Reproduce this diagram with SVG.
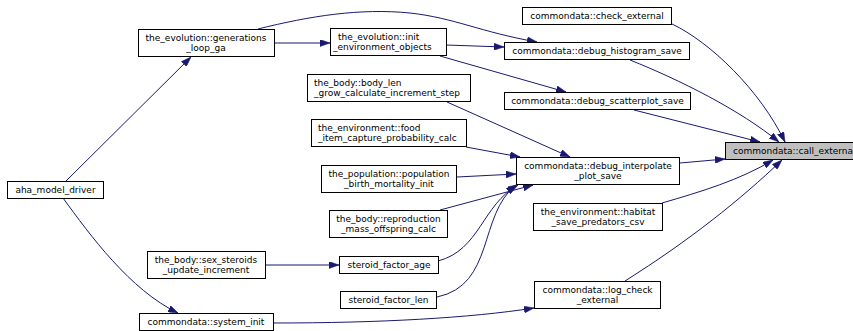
<svg xmlns="http://www.w3.org/2000/svg" width="853" height="331" viewBox="0 0 853 331">
  <style>
    .node rect { fill: #ffffff; stroke: #000000; stroke-width: 1; }
    .node.hl rect { fill: #bfbfbf; }
    .node text { font-family: "DejaVu Sans", "Liberation Sans", sans-serif; font-size: 9px; fill: #000000; }
    .c { text-anchor: middle; }
    .l { text-anchor: start; }
    .edges path { fill: none; stroke: #191970; stroke-width: 1; marker-end: url(#arrow); }
  </style>
  <defs>
    <marker id="arrow" viewBox="0 0 10 7" markerWidth="10" markerHeight="7" refX="10" refY="3.5" orient="auto" markerUnits="userSpaceOnUse">
      <path d="M0,0 L10,3.5 L0,7 z" fill="#191970" stroke="#191970" stroke-width="0.5"/>
    </marker>
  </defs>
  <rect width="853" height="331" fill="#ffffff"/>

  <g class="edges" id="edges">
    <path d="M66,181 L191,57"/>
    <path d="M63,198 C 90,235 130,290 178,313"/>
    <path d="M274,43 L330,43"/>
    <path d="M258,29 C 310,16 360,8 410,13 C 455,18 480,32 537,42"/>
    <path d="M446,45 L504,47"/>
    <path d="M440,56 L566,92"/>
    <path d="M672,24 C 710,42 760,90 785,142"/>
    <path d="M630,60 C 680,80 740,110 779,142"/>
    <path d="M634,110 L760,142"/>
    <path d="M680,163 L725,159"/>
    <path d="M662,203 C 700,192 740,180 773,160"/>
    <path d="M625,281 C 690,240 740,200 782,160"/>
    <path d="M447,102 L570,157"/>
    <path d="M466,147 L520,157"/>
    <path d="M457,177 L516,174"/>
    <path d="M440,210 L533,185"/>
    <path d="M438,261 C 480,250 482,205 518,185"/>
    <path d="M437,297 C 495,285 478,215 516,185"/>
    <path d="M265,265 L339,265"/>
    <path d="M273,323 C 380,323 470,318 534,308"/>
  </g>

  <g class="node" id="aha_model_driver">
    <rect x="7.5" y="181.5" width="96" height="17"/>
    <text class="c" x="55.5" y="193">aha_model_driver</text>
  </g>
  <g class="node" id="generations_loop_ga">
    <rect x="138.5" y="29.5" width="136" height="27"/>
    <text class="c" x="206" y="40.5">the_evolution::generations</text>
    <text class="c" x="206" y="51">_loop_ga</text>
  </g>
  <g class="node" id="sex_steroids_update_increment">
    <rect x="147.5" y="251.5" width="118" height="27"/>
    <text class="c" x="206" y="262.5">the_body::sex_steroids</text>
    <text class="c" x="206" y="273">_update_increment</text>
  </g>
  <g class="node" id="system_init">
    <rect x="139.5" y="313.5" width="134" height="17"/>
    <text class="c" x="206" y="325">commondata::system_init</text>
  </g>
  <g class="node" id="init_environment_objects">
    <rect x="330.5" y="28.5" width="116" height="27"/>
    <text class="l" x="338" y="39.5">the_evolution::init</text>
    <text class="l" x="333" y="50">_environment_objects</text>
  </g>
  <g class="node" id="body_len_grow_calculate_increment_step">
    <rect x="307.5" y="74.5" width="163" height="27"/>
    <text class="l" x="314" y="85.5">the_body::body_len</text>
    <text class="l" x="314" y="96">_grow_calculate_increment_step</text>
  </g>
  <g class="node" id="food_item_capture_probability_calc">
    <rect x="311.5" y="119.5" width="155" height="27"/>
    <text class="l" x="318" y="130.5">the_environment::food</text>
    <text class="l" x="318" y="141">_item_capture_probability_calc</text>
  </g>
  <g class="node" id="population_birth_mortality_init">
    <rect x="321.5" y="165.5" width="135" height="27"/>
    <text class="c" x="389" y="176.5">the_population::population</text>
    <text class="c" x="389" y="187">_birth_mortality_init</text>
  </g>
  <g class="node" id="reproduction_mass_offspring_calc">
    <rect x="329.5" y="210.5" width="118" height="27"/>
    <text class="c" x="388.5" y="221.5">the_body::reproduction</text>
    <text class="c" x="388.5" y="232">_mass_offspring_calc</text>
  </g>
  <g class="node" id="steroid_factor_age">
    <rect x="339.5" y="256.5" width="99" height="17"/>
    <text class="c" x="389" y="268">steroid_factor_age</text>
  </g>
  <g class="node" id="steroid_factor_len">
    <rect x="340.5" y="291.5" width="96" height="17"/>
    <text class="c" x="388.5" y="303">steroid_factor_len</text>
  </g>
  <g class="node" id="check_external">
    <rect x="522.5" y="7.5" width="149" height="17"/>
    <text class="c" x="597" y="19">commondata::check_external</text>
  </g>
  <g class="node" id="debug_histogram_save">
    <rect x="504.5" y="42.5" width="185" height="17"/>
    <text class="c" x="597" y="54">commondata::debug_histogram_save</text>
  </g>
  <g class="node" id="debug_scatterplot_save">
    <rect x="504.5" y="92.5" width="186" height="17"/>
    <text class="c" x="597.5" y="104">commondata::debug_scatterplot_save</text>
  </g>
  <g class="node" id="debug_interpolate_plot_save">
    <rect x="516.5" y="157.5" width="163" height="27"/>
    <text class="c" x="598" y="168.5">commondata::debug_interpolate</text>
    <text class="c" x="598" y="179">_plot_save</text>
  </g>
  <g class="node" id="habitat_save_predators_csv">
    <rect x="533.5" y="203.5" width="129" height="27"/>
    <text class="c" x="598" y="214.5">the_environment::habitat</text>
    <text class="c" x="598" y="225">_save_predators_csv</text>
  </g>
  <g class="node" id="log_check_external">
    <rect x="534.5" y="281.5" width="126" height="27"/>
    <text class="c" x="597.5" y="292.5">commondata::log_check</text>
    <text class="c" x="597.5" y="303">_external</text>
  </g>
  <g class="node hl" id="call_external">
    <rect x="725.5" y="142.5" width="137" height="17"/>
    <text class="l" x="733" y="154">commondata::call_external</text>
  </g>
</svg>
